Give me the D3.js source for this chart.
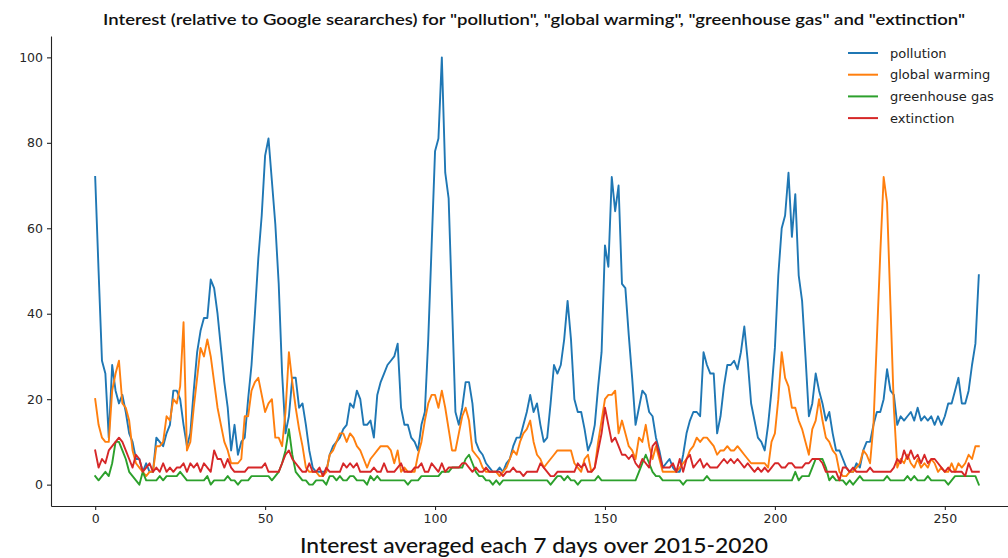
<!DOCTYPE html>
<html>
<head>
<meta charset="utf-8">
<script src="https://cdn.jsdelivr.net/npm/d3@7"></script>
<style>
html,body{margin:0;padding:0;background:#fff;}
svg{display:block;}
.tk text{font-family:"DejaVu Sans",sans-serif;font-size:12.5px;fill:#262626;}
</style>
</head>
<body>
<svg id="chart" width="1008" height="558"></svg>
<script>
const seriesNames = ["pollution", "global warming", "greenhouse gas", "extinction"];
const seriesColors = ["#1f77b4", "#ff7f0e", "#2ca02c", "#d62728"];
const xTicks = [0, 50, 100, 150, 200, 250];
const yTicks = [0, 20, 40, 60, 80, 100];
const titleText = 'Interest (relative to Google seararches) for "pollution", "global warming", "greenhouse gas" and "extinction"';
const xLabelText = "Interest averaged each 7 days over 2015-2020";

const pollution = [
 72,50,29,26,11,28,22,19,21,17,
 12,10,6,6,3,5,3,3,11,10,
 9,12,14,22,22,20,14,9,12,22,
 31,36,39,39,48,46,40,32,24,18,
 8,14,7,10,11,20,28,40,53,63,
 77,81,71,61,47,26,12,16,25,25,
 18,19,14,8,4,3,3,3,3,7,
 9,10,11,13,14,19,18,22,20,14,
 14,15,11,21,24,26,28,29,30,33,
 18,14,14,11,10,8,14,17,34,56,
 78,81,100,73,67,42,17,14,18,24,
 24,19,10,8,7,5,4,3,3,4,
 3,5,6,9,11,11,14,17,21,17,
 19,14,10,11,19,28,26,28,34,43,
 34,20,17,17,13,8,10,14,23,31,
 56,51,72,64,70,47,46,35,25,14,
 18,22,21,17,16,11,8,4,5,6,
 4,3,3,7,12,15,17,17,16,31,
 28,26,26,12,16,23,28,28,29,27,
 31,37,29,19,15,11,10,8,14,22,
 32,49,60,63,73,58,68,49,43,30,
 16,19,26,22,19,15,17,12,8,8,
 6,4,3,3,5,4,8,10,10,14,
 17,17,20,27,22,21,14,16,15,16,
 17,15,18,15,16,15,16,14,16,14,
 16,19,19,22,25,19,19,22,28,33,
 49
];
const globalWarming = [
 20,14,11,10,10,22,26,29,19,18,
 15,8,5,4,3,2,3,3,9,9,
 10,16,15,20,19,23,38,8,10,18,
 25,32,30,34,30,24,18,14,10,8,
 5,5,5,6,16,16,22,24,25,21,
 17,19,20,11,11,9,17,31,24,18,
 13,9,4,3,3,3,2,2,3,7,
 8,10,12,12,10,12,11,9,8,6,
 4,6,7,8,9,9,9,8,5,8,
 3,4,3,3,3,7,10,15,19,21,
 21,18,22,18,13,8,8,12,16,18,
 15,8,7,6,4,3,3,3,3,2,
 3,4,6,8,7,10,12,13,15,10,
 7,6,4,5,6,7,8,8,8,8,
 8,5,4,3,6,7,3,4,10,15,
 20,21,21,22,12,15,12,9,8,6,
 11,10,14,9,6,9,6,3,3,3,
 3,3,4,5,6,8,9,11,10,11,
 11,10,9,7,8,8,9,8,8,9,
 8,7,6,5,5,5,5,5,4,10,
 12,20,31,25,23,18,18,15,13,10,
 7,13,15,20,15,11,10,8,7,3,
 2,2,3,3,4,5,8,7,5,14,
 34,54,72,66,42,18,4,6,5,7,
 5,4,6,4,5,4,6,5,3,4,
 3,3,5,3,5,4,5,7,6,9,
 9
];
const greenhouseGas = [
 2,1,2,3,2,5,10,10,8,6,
 3,2,1,0,3,1,1,1,1,2,
 1,2,2,2,2,3,2,1,1,1,
 1,1,1,2,0,1,1,1,1,2,
 1,1,0,1,1,1,2,2,2,2,
 2,2,1,2,3,5,8,13,7,3,
 2,1,1,0,0,1,1,1,0,2,
 2,1,2,1,1,2,2,1,1,1,
 0,2,1,2,1,1,1,1,1,1,
 1,1,0,1,1,1,2,2,2,2,
 2,2,3,3,3,4,4,4,4,6,
 7,5,3,2,2,1,1,0,1,0,
 1,1,1,1,1,1,1,1,1,1,
 1,1,1,1,0,1,2,2,1,2,
 1,1,0,1,1,1,1,1,2,1,
 1,1,1,1,1,1,1,1,1,1,
 3,5,7,5,3,2,2,1,1,1,
 1,1,1,0,1,1,1,1,1,1,
 2,1,1,1,1,1,1,1,1,1,
 1,1,1,1,1,1,1,1,1,1,
 1,1,1,1,1,1,3,1,2,2,
 2,4,6,6,6,4,1,2,1,1,
 1,0,1,0,1,2,1,1,1,1,
 1,1,1,2,1,1,1,1,1,2,
 1,2,1,1,1,2,1,1,1,1,
 1,0,1,2,2,2,2,2,2,2,
 0
];
const extinction = [
 8,4,6,5,8,9,10,11,10,8,
 6,4,7,6,3,4,5,3,4,3,
 5,3,4,3,4,4,5,3,5,4,
 5,3,5,4,3,8,6,6,4,6,
 4,3,3,3,3,4,4,4,4,4,
 5,3,3,3,3,5,7,8,6,5,
 4,3,3,5,3,3,4,2,4,3,
 3,3,3,5,4,5,4,5,3,3,
 3,3,4,3,3,5,3,3,3,4,
 5,3,3,3,4,4,5,3,3,5,
 4,3,5,3,4,4,4,4,5,5,
 4,3,4,3,3,4,3,3,3,3,
 2,3,3,4,3,3,2,3,3,3,
 3,5,4,3,2,2,3,3,3,3,
 3,3,5,4,5,3,3,4,8,12,
 18,14,10,11,9,7,7,6,7,5,
 4,6,5,4,9,10,7,4,4,4,
 5,3,6,3,6,7,4,5,6,4,
 5,4,4,4,5,6,5,6,5,6,
 5,4,5,4,3,4,3,4,3,4,
 5,5,4,4,5,5,4,4,4,5,
 5,6,6,6,5,3,3,3,3,1,
 4,4,3,4,3,3,3,3,4,3,
 3,3,3,3,3,4,6,5,8,6,
 8,6,7,5,7,5,6,6,5,4,
 3,4,3,3,3,3,2,5,3,3,
 3
];
const allSeries = [pollution, globalWarming, greenhouseGas, extinction];

const svg = d3.select("#chart");
const x = d3.scaleLinear().domain([-13, 273]).range([51, 1023]);
const y = d3.scaleLinear().domain([-5, 105]).range([506, 36]);

// axes
svg.append("g").attr("class", "tk")
  .attr("transform", `translate(0,${y.range()[0]})`)
  .call(d3.axisBottom(x).tickValues(xTicks).tickSizeInner(4).tickSizeOuter(0).tickPadding(4));
svg.append("g").attr("class", "tk")
  .attr("transform", `translate(${x.range()[0]},0)`)
  .call(d3.axisLeft(y).tickValues(yTicks).tickSizeInner(4).tickSizeOuter(0).tickPadding(4));
svg.selectAll(".tk .domain").attr("stroke", "#222").attr("stroke-width", 1.1);
svg.selectAll(".tk .tick line").attr("stroke", "#222").attr("stroke-width", 1.1);

// lines
const line = d3.line().x((d, i) => x(i)).y(d => y(d));
allSeries.forEach((s, k) => {
  svg.append("path").datum(s)
    .attr("fill", "none")
    .attr("stroke", seriesColors[k])
    .attr("stroke-width", 1.9)
    .attr("stroke-linejoin", "round")
    .attr("stroke-linecap", "square")
    .attr("d", line);
});

// legend
const leg = svg.append("g");
seriesNames.forEach((n, k) => {
  const yy = 53 + k * 21.7;
  leg.append("line").attr("x1", 848).attr("x2", 878).attr("y1", yy).attr("y2", yy)
    .attr("stroke", seriesColors[k]).attr("stroke-width", 2);
  leg.append("text").attr("x", 890).attr("y", yy).attr("dy", "0.35em")
    .attr("font-family", "DejaVu Sans, sans-serif").attr("font-size", 13)
    .attr("fill", "#222").text(n);
});

// title
svg.append("text").attr("x", 534).attr("y", 25).attr("text-anchor", "middle")
  .attr("font-family", "Lato, 'Open Sans', sans-serif").attr("font-weight", 600)
  .attr("font-size", 16).attr("fill", "#111")
  .attr("textLength", 862).attr("lengthAdjust", "spacingAndGlyphs")
  .text(titleText);

// x label
svg.append("text").attr("x", 534).attr("y", 553).attr("text-anchor", "middle")
  .attr("font-family", "Lato, 'Open Sans', sans-serif").attr("font-weight", 500)
  .attr("font-size", 21).attr("fill", "#111")
  .attr("textLength", 468).attr("lengthAdjust", "spacingAndGlyphs")
  .text(xLabelText);
</script>
</body>
</html>
